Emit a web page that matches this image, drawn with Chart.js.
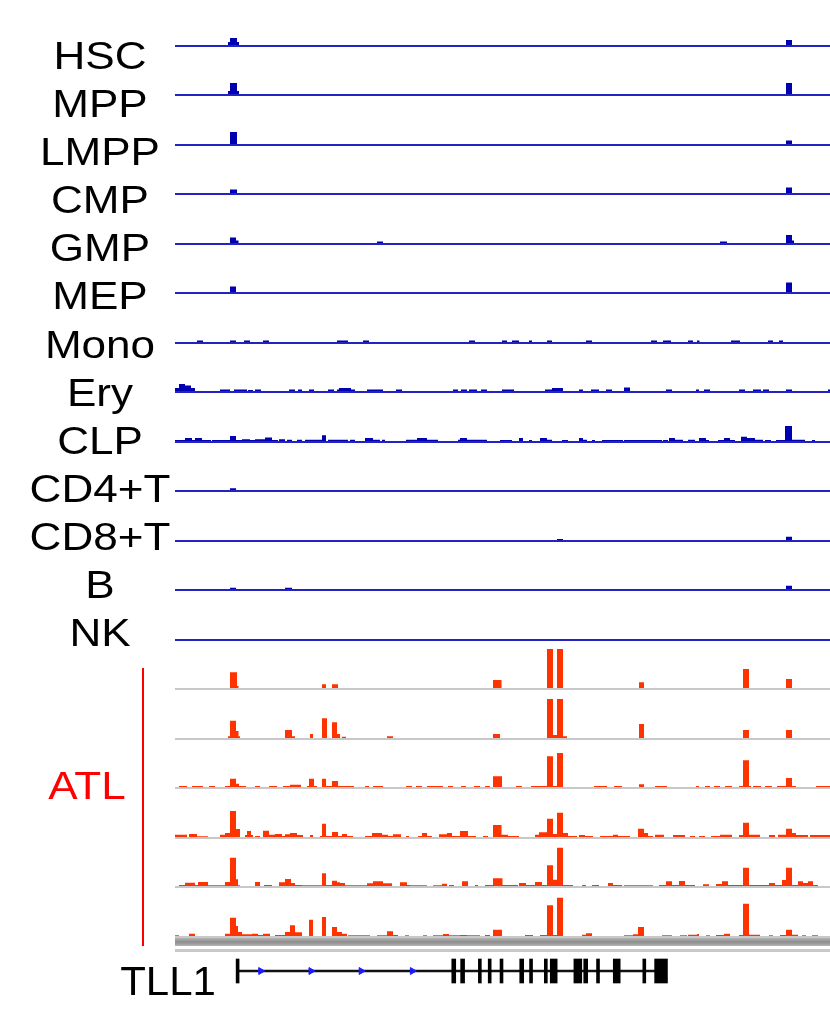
<!DOCTYPE html>
<html>
<head>
<meta charset="utf-8">
<script src="https://cdn.jsdelivr.net/npm/chart.js@4.4.0/dist/chart.umd.min.js"></script>
<style>
  html, body { margin: 0; padding: 0; background: #fff; }
  #page { position: relative; width: 830px; height: 1029px; overflow: hidden; font-family: "Liberation Sans", Arial, sans-serif; }
  .lbl { position: absolute; width: 200px; text-align: center; font-size: 38px; line-height: 38px; color: #000; white-space: nowrap; transform-origin: 50% 50%; }
  canvas { position: absolute; }
</style>
</head>
<body>
<div id="page"></div>
<script>
// locus window (arbitrary position units along the region)
const REGION_START = 175, REGION_END = 830;

// normal blood cell tracks, intervals as [start, end, height]
const blueLabels = ['HSC', 'MPP', 'LMPP', 'CMP', 'GMP', 'MEP', 'Mono', 'Ery', 'CLP', 'CD4+T', 'CD8+T', 'B', 'NK'];

const hsc = [[228,230,4],[230,237,8],[237,239,4],[786,792,6]];
const mpp = [[228,230,4],[230,237,12],[237,239,4],[786,792,12]];
const lmpp = [[230,237,13],[786,792,4.5]];
const cmp = [[230,237,4.5],[786,792,6.5]];
const gmp = [[230,236,6.5],[236,238.5,3.5],[377,383,2.5],[720,727,2.5],[786,792,9],[792,794,3.5]];
const mep = [[230,236,6.5],[786,792,10.5]];
const mono = [[197,203,2.5],[230,236,2.5],[244,250,2.5],[263,269,2.5],[337,348,2.5],[363,369,2.5],[469,475,2.5],
  [502,507,2.5],[512,519,2.5],[529,532,2.5],[547,552,2.5],[586,592,2.5],[651,657,2.5],[663,671,2.5],[688,693,2.5],
  [697,699.5,2.5],[731,740,2.5],[768,773,2.5],[779,783,2.5]];
const ery = [[175,179,4],[179,185,8],[185,191,6.5],[191,195,4],[220,230,2.5],[234,247,2.5],[248,253,2],[255,261,2.5],
  [289,295,2.5],[298,302,2.5],[309,314,2.5],[328,334,2.5],[337,339,2.5],[339,351,4],[351,355,2.5],[367,383,2.5],
  [396,402,2.5],[453,458,2.5],[461,467,2.5],[469,477,2.5],[481,487,2.5],[502,514,2.5],[545,552,2.5],[552,563,4],
  [579,583,2.5],[591,599,2.5],[606,612,2.5],[624,630,4.5],[666,672,2.5],[696,699,2.5],[704,710,2.5],[739,745,2.5],
  [753,761,2.5],[763,769,2.5],[786,792,2.5],[828,830,2.5]];
const clp = [[175,185,2],[185,192,4],[192,195,2],[195,202,4],[202,211,2],[212,230,2],[230,236,6],[236,242,2],
  [242,250,2.7],[250,255,2],[255,265,2.7],[265,272,4.5],[272,278,2],[279,285,2.7],[287,292,2.3],[297,302,2.3],
  [305,322,2.3],[322,326,6.7],[328,348,2.3],[350,355,2.3],[365,373,4],[373,380,2.3],[382,385,2.3],[406,417,2.3],
  [417,427,4],[427,438,2.3],[458,460,2.3],[460,467,4],[467,487,2.3],[500,512,2],[519,523,4],[529,532,2],
  [540,547,4],[547,552,2.3],[562,568,2],[579,583,4],[583,587,2.3],[592,595,2],[602,623,2],[624,662,2],[663,668,2],
  [669,675,4],[675,683,2.3],[688,695,2.3],[699,706,4],[706,709,2],[718,724,2],[724,730,4],[730,735,2],[741,747,5.3],
  [747,755,4],[755,763,2.3],[765,771,2],[776,785,2],[785,792,16],[792,805,2.3],[812,815,2]];
const cd4t = [[230,236,2.7]];
const cd8t = [[557,563,2],[786,792,4.3]];
const bcell = [[230,236,2.3],[285,292,2.3],[786,792,4.3]];
const nk = [];

// ATL patient tracks
const atl1 = [[230,237,16.7],[237,238.5,3],[322,326,4.7],[332,338,4.7],[493,501.5,9],[547,553,40],[557,563,40],
  [639,644,6.7],[743,749,20],[786,792,10]];
const atl2 = [[228,230,2.7],[230,236,18.3],[236,238.5,8],[238.5,240,2.7],[285,292,9],[292,295,2.7],[310,313,5],
  [322,327,20.7],[332,337,16.7],[337,340,5],[342,346,2.3],[387,393,2.7],[493,500,5],[547,553,40],[553,557,4],
  [557,563,40],[563,567,2.7],[639,644,15],[743,749,9],[786,792,9]];
const atl3 = [[179,187,2],[192,203,2],[209,215,2],[225,230,2],[230,236,9.3],[236,239,4.3],[239,246,2],[255,260,2],
  [269,277,2],[283,290,2],[290,301,3.3],[307,309,2],[309,314,9.3],[314,317,2],[322,326,9.3],[326,332,2],[332,338,7],
  [338,354,2],[365,369,2],[373,383,2],[406,412,2],[416,422,2],[427,443,2],[448,453,2],[461,466,2],[474,480,2],
  [485,490,2],[493,502,11.7],[516,522,2],[531,547,2],[547,553,31.7],[553,557,2],[557,563,35],[594,607,2],[614,622,2],
  [639,644,3.7],[655,667,2],[696,699,2],[705,710,2],[714,720,2],[725,732,2],[739,743,2],[743,749,27.7],[749,751,2],
  [753,761,2],[765,772,2],[777,786,2],[786,792,10],[792,796,2],[816,830,2]];
const atl4 = [[175,187,3.3],[189,197,4],[197,208,1.7],[220,225,3.3],[225,230,5],[230,236,27],[236,240,9],[245,247,3],
  [247,251,7],[251,253,3],[255,260,2],[263,269,7.3],[269,275,3.3],[275,282,4],[282,285,2],[285,290,3.7],[290,297,5],
  [297,303,3],[310,313,3],[320,322,2],[322,326,14.3],[326,332,2],[332,338,6],[338,342,2],[342,347,4],[347,353,2],
  [365,372,2],[372,382,5],[382,388,3.3],[388,393,2],[393,401,3.7],[406,409,2],[418,422,2],[422,427,5],[427,432,2],
  [439,447,3.7],[447,452,5],[452,460,2],[460,468,7],[468,476,2],[483,488,2],[493,501.5,13],[501.5,508,3.3],
  [508,519,2],[535,539,3.3],[539,547,5.7],[547,553,19.3],[553,557,4],[557,563,25.3],[563,568,5],[568,577,2],
  [579,585,3],[585,593,2],[600,613,2],[613,618,3.3],[618,630,2],[638,644,9.3],[644,648,5],[648,653,2],[655,664,3.3],
  [673,685,3],[690,695,2],[699,705,2],[711,720,2],[720,732,3.3],[739,743,3],[743,749,15.3],[749,760,3.3],[769,775,3],
  [778,786,3.3],[786,792,9.3],[792,796,5],[796,808,3],[810,830,3]];
const atl5 = [[179,185,2],[185,195,4.3],[195,198,2],[198,208,5],[208,225,1.7],[225,230,5],[230,236,29.3],[236,238,7.7],
  [238,240,1.7],[255,260,5],[264,272,2],[279,285,4.7],[285,291,8],[291,295,4],[295,302,2],[302,322,1.7],[322,326,13.7],
  [326,332,2],[332,337,6.3],[337,340,4.7],[340,345,4],[345,367,1.7],[367,373,3.7],[373,383,5.7],[383,392,3.7],
  [400,407,4.7],[407,410,2],[410,427,1.7],[433,442,1.7],[442,447,3.3],[449,454,2],[462,468,5.7],[475,478,2],
  [485,493,2],[493,502.5,8.7],[502.5,518,2],[519,526,4],[526,535,2],[535,542,5],[542,547,2],[547,553,21.7],
  [553,557,7.3],[557,563,39.3],[563,573,2],[582,586,2],[592,599,2],[608,613,4],[613,622,2],[624,653,1.7],[659,666,2],
  [666,672,5.7],[672,679,2],[679,685,6],[685,695,2],[703,709,2.7],[716,722,3],[722,728,5.7],[728,743,2],[743,749,19.3],
  [749,769,2],[769,775,4],[775,782,2],[782,786,7],[786,792,19.3],[792,798,2],[798,803,5.7],[803,808,4],[808,813,5.7],
  [813,818,2]];
const atl6 = [[175,179,1.7],[189,195,3.3],[225,230,3.3],[230,236,19.3],[236,238,11],[238,242,5],[242,252,2.7],
  [252,258,3.3],[258,263,2],[263,270,3.3],[275,285,2],[285,290,5],[290,295,11.7],[295,302,4.7],[309,313,17.3],
  [322,326,20],[332,337,10],[337,342,5],[342,347,3.3],[348,370,1.7],[377,387,1.7],[387,393,5.7],[393,398,2],
  [405,409,1.7],[423,427,1.7],[433,443,1.7],[443,449,3],[449,460,1.7],[460,467,2],[467,480,1.7],[485,490,2],
  [493,502,7.3],[525,533,2],[540,547,2],[547,553,31.7],[553,557,2],[557,563,39.3],[582,586,2.3],[586,592,3.7],
  [624,633,1.7],[633,638,2.7],[638,644,10],[662,672,1.7],[680,687,1.7],[688,697,2.3],[697,699,3],[706,710,1.7],
  [716,724,2],[724,730,3.3],[739,743,2],[743,749,33.3],[749,760,2.3],[769,773,1.7],[780,786,2],[786,792,7.3],
  [792,798,2.3],[802,806,1.7],[812,818,1.7]];

// TLL1 gene model
const geneSpan = [233, 668];
const geneExons = [[232,235],[451,455],[460,464],[478,481],[488,491],[500,503],[520,524],[530,533],[545,548],
  [551,558],[575,583],[585,589],[598,601],[615,622],[645,648],[657,670]];
const geneArrows = [257, 308, 359, 411];

const blueData = [hsc, mpp, lmpp, cmp, gmp, mep, mono, ery, clp, cd4t, cd8t, bcell, nk];
const atlData = [atl1, atl2, atl3, atl4, atl5, atl6];

const page = document.getElementById('page');
const TRACK_W = REGION_END - REGION_START;
const FIRST_BASE = 45.8, TRACK_GAP = 49.5;
// row labels sit on a slightly tighter pitch than the tracks
const FIRST_LABEL_MID = 55, LABEL_GAP = 48.1;

function stepPoints(intervals) {
  const pts = [{ x: REGION_START, y: 0 }];
  intervals.forEach(([s, e, h]) => { pts.push({ x: s, y: h }, { x: e, y: 0 }); });
  pts.push({ x: REGION_END, y: 0 });
  return pts;
}

function addCanvas(left, top, w, h) {
  const cv = document.createElement('canvas');
  cv.width = w; cv.height = h;
  cv.style.left = left + 'px';
  cv.style.top = top + 'px';
  page.appendChild(cv);
  return cv;
}

function addLabel(text, cx, baseline, size, color, stretch) {
  const d = document.createElement('div');
  d.className = 'lbl';
  d.textContent = text;
  d.style.fontSize = size + 'px';
  d.style.lineHeight = size + 'px';
  d.style.left = (cx - 100) + 'px';
  d.style.top = (baseline - size * 0.8465) + 'px';
  d.style.transform = 'scaleX(' + (stretch || 1) + ')';
  if (color) d.style.color = color;
  page.appendChild(d);
}

function trackChart(base, intervals, fillColor, lineColor) {
  const cv = addCanvas(REGION_START, Math.round(base) - 47, TRACK_W, 48);
  new Chart(cv, {
    type: 'line',
    data: {
      datasets: [
        { data: stepPoints(intervals), stepped: true, fill: 'origin', backgroundColor: fillColor,
          borderColor: 'rgba(0,0,0,0)', borderWidth: 0, pointRadius: 0, order: 1 },
        { data: [{ x: REGION_START, y: 0 }, { x: REGION_END, y: 0 }], borderColor: lineColor,
          borderWidth: 2, pointRadius: 0, fill: false, order: 0 }
      ]
    },
    options: {
      responsive: false, animation: false, events: [],
      layout: { padding: 0 },
      plugins: { legend: { display: false }, tooltip: { enabled: false } },
      scales: {
        x: { type: 'linear', display: false, min: REGION_START, max: REGION_END },
        y: { display: false, min: -1, max: 47 }
      }
    }
  });
}

blueData.forEach((d, i) => {
  trackChart(FIRST_BASE + TRACK_GAP * i, d, '#0000b0', '#2323c2');
  addLabel(blueLabels[i], 100, FIRST_LABEL_MID + LABEL_GAP * i + 14, 39, null, 1.13);
});

atlData.forEach((d, j) => {
  trackChart(FIRST_BASE + TRACK_GAP * (blueData.length + j), d, '#ff3300', '#c8c8c8');
});

// ATL bracket and label
const bracket = document.createElement('div');
bracket.style.cssText = 'position:absolute;left:142px;top:668px;width:2px;height:278px;background:#ff0000;';
page.appendChild(bracket);
addLabel('ATL', 86.5, 799, 39, '#ff0000', 1.13);

// ruler band under the tracks
const band = document.createElement('div');
band.style.cssText = 'position:absolute;left:175px;top:938px;width:655px;height:8px;background:linear-gradient(#b4b4b4,#8c8c8c 50%,#b4b4b4);';
page.appendChild(band);
const band2 = document.createElement('div');
band2.style.cssText = 'position:absolute;left:175px;top:949px;width:655px;height:3px;background:#c8c8c8;';
page.appendChild(band2);

// gene track
const gcv = addCanvas(REGION_START, 950, TRACK_W, 42);
const geneSets = geneExons.map(e => ({
  data: [e], backgroundColor: '#000', barThickness: 24, grouped: false, order: 1
}));
geneSets.push({ data: [geneSpan], backgroundColor: '#111', barThickness: 2, grouped: false, order: 2 });
geneSets.push({
  type: 'scatter', data: geneArrows.map(x => ({ x: x, y: 'TLL1' })), pointStyle: 'triangle', rotation: 90,
  pointRadius: 4, backgroundColor: '#1a1aff', borderColor: '#1a1aff', borderWidth: 1, order: 0
});
new Chart(gcv, {
  type: 'bar',
  data: { labels: ['TLL1'], datasets: geneSets },
  options: {
    indexAxis: 'y', responsive: false, animation: false, events: [],
    layout: { padding: 0 },
    plugins: { legend: { display: false }, tooltip: { enabled: false } },
    scales: {
      x: { type: 'linear', display: false, min: REGION_START, max: REGION_END },
      y: { type: 'category', display: false }
    }
  }
});
addLabel('TLL1', 167.5, 995, 40, null, 1.05);
</script>
</body>
</html>
